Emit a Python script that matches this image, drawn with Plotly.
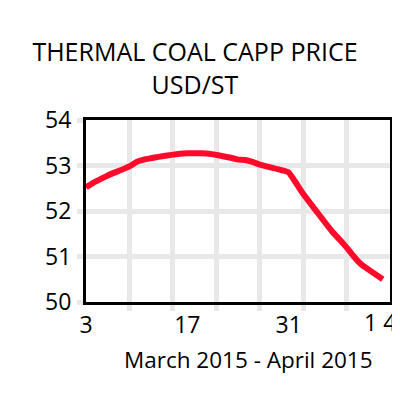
import plotly.graph_objects as go

dates = ['2015-03-03', '2015-03-04', '2015-03-05', '2015-03-06',
         '2015-03-09', '2015-03-10', '2015-03-11', '2015-03-12', '2015-03-13',
         '2015-03-16', '2015-03-17', '2015-03-18', '2015-03-19', '2015-03-20',
         '2015-03-23', '2015-03-24', '2015-03-25', '2015-03-26', '2015-03-27',
         '2015-03-30', '2015-03-31', '2015-04-01', '2015-04-02',
         '2015-04-06', '2015-04-07', '2015-04-08', '2015-04-09', '2015-04-10',
         '2015-04-13']
price = [52.52, 52.62, 52.70, 52.78,
         52.98, 53.08, 53.13, 53.16, 53.19,
         53.26, 53.27, 53.27, 53.27, 53.26,
         53.17, 53.13, 53.12, 53.08, 53.02,
         52.90, 52.85, 52.62, 52.38,
         51.55, 51.38, 51.20, 51.00, 50.83,
         50.50]

x_ticks = ['2015-03-03', '2015-03-17', '2015-03-31']
x_labels = ['3', '17', '31']
x_end = '2015-04-14'   # last tick, drawn right-aligned like the original
x_end_label = '1 4'
x_grid = ['2015-03-09', '2015-03-15', '2015-03-21', '2015-03-27',
          '2015-04-02', '2015-04-08']
y_ticks = [50, 51, 52, 53, 54]

grid = '#e8e8e8'

fig = go.Figure(
    data=go.Scatter(
        x=dates,
        y=price,
        mode='lines',
        line=dict(color='#ff0a2a', width=6, shape='spline', smoothing=0.4),
    )
)
# page body has an 8px margin, so the figure is 392 wide/high
fig.update_layout(
    width=392,
    height=392,
    margin=dict(l=78, r=10, t=112, b=98),
    paper_bgcolor='white',
    plot_bgcolor='white',
    showlegend=False,
    font=dict(family='Open Sans', color='black'),
    title=dict(
        text='THERMAL COAL CAPP PRICE<br>USD/ST',
        x=0.477, xanchor='center',
        y=0.864, yanchor='top',
        font=dict(size=25),
        automargin=False,
    ),
)
fig.add_annotation(
    text=x_end_label, x=x_end, xref='x', y=0, yref='paper',
    xanchor='right', yanchor='top', xshift=8, yshift=-2,
    showarrow=False, font=dict(size=23),
)
fig.add_annotation(
    text='March 2015 - April 2015', x=0.533, xref='paper', y=0, yref='paper',
    xanchor='center', yanchor='top', yshift=-40,
    showarrow=False, font=dict(size=22.5),
)
fig.update_xaxes(
    automargin=False,
    range=['2015-03-03', x_end],
    tickvals=x_ticks,
    ticktext=x_labels,
    tickfont=dict(size=23),
    ticks='',
    showgrid=False,
    showline=True, linecolor='black', linewidth=3, mirror=True,
    minor=dict(tickvals=x_grid, showgrid=True, gridcolor=grid, gridwidth=5,
               ticks='outside', ticklen=6, tickwidth=5, tickcolor=grid),
    zeroline=False,
)
fig.update_yaxes(
    automargin=False,
    range=[50, 54],
    tickvals=y_ticks,
    tickfont=dict(size=23),
    ticks='outside', ticklen=6, tickwidth=5, tickcolor=grid,
    ticklabelstandoff=1,
    showgrid=True, gridcolor=grid, gridwidth=5,
    showline=True, linecolor='black', linewidth=3, mirror=True,
    zeroline=False,
)
fig.write_html('out.html')
